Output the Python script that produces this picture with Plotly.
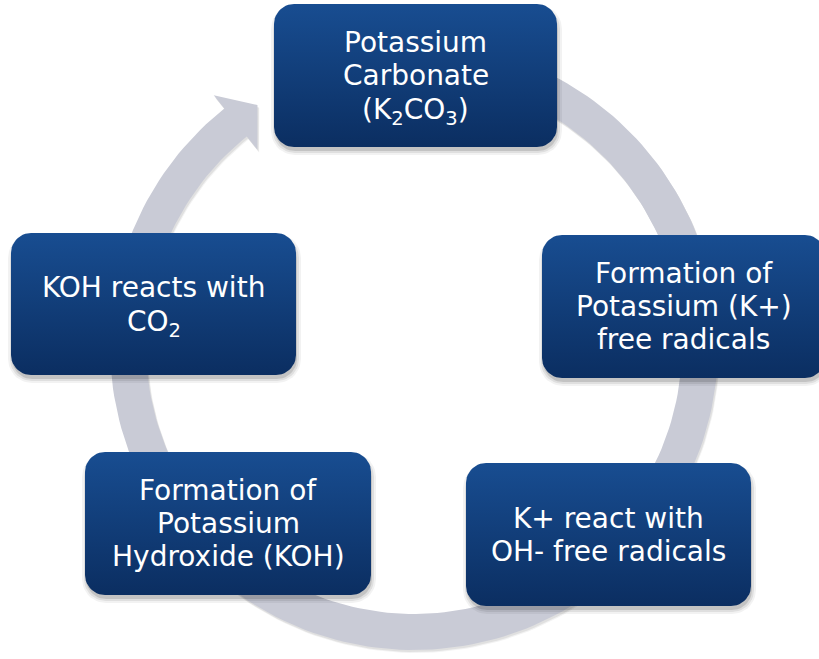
import numpy as np
import plotly.graph_objects as go

# ---- content ----
STEP_LABELS = [
    "Potassium<br>Carbonate<br>(K<sub>2</sub>CO<sub>3</sub>)",
    "Formation of<br>Potassium (K+)<br>free radicals",
    "K+ react with<br>OH- free radicals",
    "Formation of<br>Potassium<br>Hydroxide (KOH)",
    "KOH reacts with<br>CO<sub>2</sub>",
]

# ---- layout (pixel space, y down) ----
W, H = 819, 659
BOXES = [(274, 4, 557, 147), (542, 235, 825, 378), (466, 463, 751, 606),
         (85, 452, 371, 595), (11, 233, 296, 375)]
CORNER = 20
RING_C = (414, 346)
RING_R = 286
RING_HW = 18
RING_START, RING_END = -72.0, 231.4
HEAD_HW, HEAD_LEN = 35, 28

BOX_TOP, BOX_BOT = "#184d91", "#0b2e61"
RING_COLOR = "#c9cbd6"
FONT = "DejaVu Sans"
FONT_SIZE = 28
LINE_GAP = 33


def rounded_rect(x0, y0, x1, y1, r, n=12):
    xs, ys = [], []
    corners = [(x1 - r, y0 + r, -90, 0), (x1 - r, y1 - r, 0, 90),
               (x0 + r, y1 - r, 90, 180), (x0 + r, y0 + r, 180, 270)]
    for cx, cy, a0, a1 in corners:
        t = np.radians(np.linspace(a0, a1, n))
        xs += list(cx + r * np.cos(t))
        ys += list(cy + r * np.sin(t))
    xs.append(xs[0]); ys.append(ys[0])
    return xs, ys


def ring_polygon(dx=0, dy=0):
    cx, cy = RING_C[0] + dx, RING_C[1] + dy
    t = np.radians(np.linspace(RING_START, RING_END, 200))
    ro, ri = RING_R + RING_HW, RING_R - RING_HW
    xs = list(cx + ro * np.cos(t)); ys = list(cy + ro * np.sin(t))
    te = np.radians(RING_END)
    ux, uy = np.cos(te), np.sin(te)
    tx, ty = -np.sin(te), np.cos(te)
    bx, by = cx + RING_R * ux, cy + RING_R * uy
    xs += [bx + HEAD_HW * ux, bx + HEAD_LEN * tx, bx - HEAD_HW * ux]
    ys += [by + HEAD_HW * uy, by + HEAD_LEN * ty, by - HEAD_HW * uy]
    xs += list(cx + ri * np.cos(t[::-1])); ys += list(cy + ri * np.sin(t[::-1]))
    xs.append(xs[0]); ys.append(ys[0])
    return xs, ys


fig = go.Figure()

# ring shadow + ring
for k, a in [(3, 0.05), (2, 0.07)]:
    xs, ys = ring_polygon(k * 0.6, k)
    fig.add_trace(go.Scatter(x=xs, y=ys, fill="toself", mode="lines",
                             line=dict(width=0), fillcolor=f"rgba(0,0,0,{a})",
                             hoverinfo="skip"))
xs, ys = ring_polygon()
fig.add_trace(go.Scatter(x=xs, y=ys, fill="toself", mode="lines",
                         line=dict(width=0), fillcolor=RING_COLOR, hoverinfo="skip"))

# box shadows
for (x0, y0, x1, y1) in BOXES:
    for grow, a in [(4, 0.05), (2, 0.08), (0, 0.12)]:
        xs, ys = rounded_rect(x0 - grow + 1, y0 - grow + 5, x1 + grow + 1, y1 + grow + 4, CORNER + grow)
        fig.add_trace(go.Scatter(x=xs, y=ys, fill="toself", mode="lines",
                                 line=dict(width=0), fillcolor=f"rgba(0,0,0,{a})",
                                 hoverinfo="skip"))

# boxes with vertical gradient (lighter at the top)
for (x0, y0, x1, y1) in BOXES:
    xs, ys = rounded_rect(x0, y0, x1, y1, CORNER)
    fig.add_trace(go.Scatter(x=xs, y=ys, fill="toself", mode="lines",
                             line=dict(width=0),
                             fillgradient=dict(type="vertical",
                                               colorscale=[[0, BOX_BOT], [1, BOX_TOP]]),
                             hoverinfo="skip"))

# labels, one annotation per line for exact line spacing
for label, (x0, y0, x1, y1) in zip(STEP_LABELS, BOXES):
    lines = label.split("<br>")
    n = len(lines)
    cx, cy = (x0 + x1) / 2, (y0 + y1) / 2
    for i, line in enumerate(lines):
        yy = cy + (i - (n - 1) / 2) * LINE_GAP
        if "<sub>" in line:
            yy += 3
        fig.add_annotation(x=cx, y=yy, text=line,
                           showarrow=False, xanchor="center", yanchor="middle",
                           font=dict(family=FONT, size=FONT_SIZE, color="white"))

fig.update_layout(
    width=W, height=H, margin=dict(l=0, r=0, t=0, b=0),
    paper_bgcolor="white", plot_bgcolor="white", showlegend=False,
    xaxis=dict(range=[0, W], visible=False, fixedrange=True),
    yaxis=dict(range=[H, 0], visible=False, fixedrange=True),
)
fig.write_html("out.html", config={"displayModeBar": False},
               post_script="document.body.style.margin='0';")
